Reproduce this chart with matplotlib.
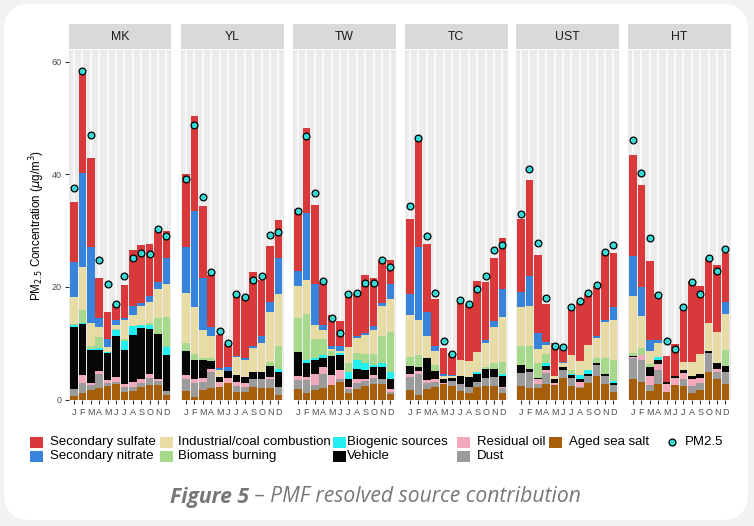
import numpy as np
import matplotlib
matplotlib.use("Agg")
import matplotlib.pyplot as plt
from matplotlib.patches import FancyBboxPatch, Rectangle
from matplotlib.lines import Line2D
from matplotlib.transforms import IdentityTransform

# ---------------- data ----------------
sites = ["MK", "YL", "TW", "TC", "UST", "HT"]
months = ["J", "F", "M", "A", "M", "J", "J", "A", "S", "O", "N", "D"]

aged_sea_salt = [
    [0.65, 1.2, 1.66, 2.1, 2.4, 2.7, 1.4, 1.5, 2.25, 2.5, 2.5, 0.8],
    [1.5, 0.5, 1.7, 2.0, 2.25, 3.0, 1.4, 1.4, 2.25, 2.1, 2.1, 0.8],
    [1.8, 1.1, 1.7, 2.1, 2.5, 3.1, 1.2, 1.8, 2.4, 2.7, 2.7, 0.9],
    [1.7, 0.8, 1.8, 2.25, 2.8, 2.4, 1.5, 1.2, 2.25, 2.4, 2.4, 1.1],
    [2.4, 2.0, 2.0, 2.8, 2.5, 3.9, 2.4, 2.0, 3.0, 4.1, 2.8, 1.4],
    [3.6, 3.1, 1.5, 2.7, 1.4, 2.5, 2.4, 1.2, 1.7, 4.9, 3.6, 2.8],
]
dust = [
    [1.2, 1.7, 0.9, 2.4, 0.5, 0.4, 0.9, 0.75, 0.6, 1.4, 0.7, 0.7],
    [2.2, 2.5, 1.4, 2.8, 0.0, 0.0, 1.0, 0.9, 1.35, 1.5, 1.5, 1.45],
    [1.6, 2.4, 0.8, 2.5, 0.0, 0.5, 0.6, 1.1, 0.8, 1.2, 0.9, 0.5],
    [2.3, 3.7, 1.2, 0.9, 0.0, 0.8, 1.2, 1.05, 0.85, 1.4, 1.6, 0.9],
    [2.3, 2.9, 0.8, 1.9, 0.0, 1.4, 1.5, 0.25, 1.1, 2.0, 1.3, 1.2],
    [3.7, 4.0, 1.0, 2.5, 0.0, 0.0, 1.3, 1.2, 1.3, 3.3, 1.3, 2.1],
]
residual_oil = [
    [0.0, 1.4, 0.3, 0.6, 0.6, 0.9, 0.5, 0.85, 0.8, 0.6, 0.4, 0.0],
    [0.6, 0.7, 0.8, 0.7, 0.9, 0.9, 0.7, 0.7, 0.0, 0.0, 0.4, 0.0],
    [0.7, 0.5, 2.0, 1.1, 1.8, 1.6, 0.45, 0.7, 0.4, 0.4, 0.0, 0.4],
    [0.5, 0.6, 0.4, 0.45, 0.2, 0.0, 0.0, 0.0, 0.0, 0.0, 0.0, 0.3],
    [0.0, 0.0, 0.8, 0.5, 0.5, 0.0, 0.0, 0.85, 0.0, 0.0, 0.0, 0.0],
    [0.3, 0.8, 1.6, 1.1, 1.3, 1.4, 1.0, 1.3, 0.9, 0.0, 0.6, 0.0],
]
vehicle = [
    [11.1, 9.1, 6.0, 3.7, 4.7, 7.3, 6.0, 8.3, 9.0, 8.1, 8.1, 6.4],
    [4.3, 3.3, 3.1, 1.4, 0.8, 1.2, 1.2, 1.0, 1.2, 1.2, 1.9, 2.65],
    [4.4, 2.5, 2.6, 1.6, 3.4, 2.7, 1.45, 1.9, 1.6, 1.4, 2.1, 1.8],
    [1.4, 0.7, 3.9, 1.5, 0.7, 0.6, 1.4, 1.75, 1.5, 1.6, 1.5, 1.9],
    [1.4, 0.6, 0.2, 0.7, 0.7, 0.5, 0.4, 0.6, 0.5, 0.4, 0.4, 0.3],
    [0.1, 0.0, 1.7, 0.7, 0.4, 0.2, 0.5, 0.4, 0.6, 0.4, 0.9, 1.0],
]
biogenic_sources = [
    [0.3, 0.1, 0.1, 0.3, 0.3, 1.0, 1.6, 1.6, 0.6, 0.6, 0.0, 1.5],
    [0.0, 0.0, 0.0, 0.0, 0.0, 0.0, 0.0, 0.0, 0.0, 0.0, 0.0, 0.6],
    [0.0, 0.5, 0.2, 0.6, 0.0, 0.3, 1.2, 1.6, 1.2, 0.4, 0.7, 1.3],
    [0.0, 0.0, 0.0, 0.0, 0.0, 0.0, 0.0, 0.0, 0.3, 0.0, 0.0, 0.4],
    [0.0, 0.0, 0.0, 0.5, 0.0, 0.0, 0.3, 0.6, 0.7, 0.0, 0.0, 0.4],
    [0.0, 0.0, 0.0, 0.6, 0.0, 0.0, 0.0, 0.0, 0.0, 0.0, 0.0, 0.0],
]
biomass_burning = [
    [0.2, 2.4, 0.6, 2.0, 0.0, 0.2, 0.3, 0.0, 0.0, 0.3, 2.8, 5.3],
    [1.5, 1.1, 0.3, 0.4, 0.0, 0.0, 0.0, 0.0, 0.0, 0.0, 0.8, 4.0],
    [6.0, 8.1, 3.4, 2.9, 0.9, 0.0, 1.5, 1.2, 1.6, 1.9, 4.9, 7.1],
    [1.6, 2.1, 0.0, 1.0, 0.0, 0.0, 0.0, 0.0, 0.0, 0.4, 0.9, 2.0],
    [3.4, 4.0, 2.7, 1.6, 0.0, 0.0, 0.6, 0.0, 0.0, 0.8, 2.9, 3.7],
    [0.6, 1.3, 0.5, 0.0, 0.0, 0.0, 0.0, 0.0, 0.0, 0.0, 0.0, 2.9],
]
industrial_coal = [
    [4.7, 7.6, 4.0, 1.8, 0.9, 0.8, 3.4, 2.0, 3.3, 3.9, 5.2, 5.9],
    [8.9, 8.3, 5.0, 4.0, 1.3, 0.0, 3.2, 3.0, 4.3, 5.3, 8.9, 9.2],
    [5.6, 6.2, 2.5, 1.6, 0.4, 0.4, 3.0, 2.6, 3.4, 4.3, 5.3, 5.8],
    [7.5, 6.3, 4.0, 2.5, 0.4, 0.3, 2.9, 2.9, 3.6, 4.3, 6.5, 8.1],
    [7.0, 7.1, 2.4, 1.7, 0.4, 0.6, 2.7, 2.6, 4.4, 3.6, 6.4, 7.1],
    [10.1, 5.6, 2.3, 2.5, 0.0, 0.0, 1.5, 2.6, 3.5, 4.9, 5.6, 6.4],
]
secondary_nitrate = [
    [6.2, 16.8, 13.5, 1.6, 1.4, 0.9, 0.3, 1.6, 0.6, 1.0, 1.2, 4.5],
    [8.0, 17.0, 9.3, 1.5, 0.4, 0.7, 0.2, 0.3, 0.4, 1.2, 1.8, 6.5],
    [2.8, 11.8, 7.4, 0.9, 0.5, 0.9, 0.0, 0.4, 0.4, 0.7, 0.6, 2.8],
    [3.8, 12.8, 4.2, 0.9, 0.4, 0.3, 0.0, 0.0, 0.0, 0.4, 1.0, 4.9],
    [2.6, 5.3, 2.9, 0.5, 0.0, 0.3, 0.0, 0.0, 0.0, 0.4, 0.3, 2.4],
    [7.1, 5.1, 1.9, 0.4, 0.0, 0.0, 0.0, 0.0, 0.0, 0.0, 0.0, 2.2],
]
secondary_sulfate = [
    [10.8, 17.7, 15.8, 7.1, 4.8, 2.7, 5.9, 9.9, 10.3, 9.3, 9.1, 4.9],
    [13.0, 17.0, 12.8, 9.3, 5.8, 4.0, 11.4, 11.1, 13.1, 10.0, 9.9, 6.6],
    [11.0, 15.2, 13.9, 7.6, 5.5, 4.4, 9.3, 7.7, 10.3, 8.5, 7.6, 4.2],
    [13.2, 19.4, 12.2, 8.3, 4.7, 3.9, 10.7, 10.0, 12.5, 10.4, 11.3, 9.1],
    [12.9, 17.1, 13.8, 6.7, 5.9, 2.4, 8.1, 10.5, 9.0, 8.8, 12.0, 9.6],
    [18.0, 18.2, 14.1, 8.2, 4.6, 5.7, 9.8, 14.4, 12.2, 11.7, 11.9, 8.7],
]
pm25 = [
    [37.6, 58.3, 46.9, 24.8, 20.5, 16.9, 21.9, 25.2, 26.1, 25.9, 30.2, 29.0],
    [39.2, 48.8, 36.0, 22.6, 12.2, 10.0, 18.7, 18.2, 21.3, 21.9, 29.2, 29.7],
    [33.4, 46.8, 36.7, 21.1, 14.4, 11.8, 18.7, 19.0, 20.7, 20.7, 24.8, 23.5],
    [34.4, 46.4, 29.1, 19.0, 10.4, 8.1, 17.7, 16.9, 19.7, 22.0, 26.5, 27.4],
    [32.9, 40.9, 27.8, 18.0, 9.5, 9.4, 16.4, 17.5, 19.0, 20.4, 26.2, 27.4],
    [46.1, 40.3, 28.7, 18.5, 10.4, 8.9, 16.4, 20.9, 18.7, 25.1, 22.8, 26.7],
]

legend_labels = ["Secondary sulfate", "Secondary nitrate", "Industrial/coal combustion",
                 "Biomass burning", "Biogenic sources", "Vehicle", "Residual oil",
                 "Dust", "Aged sea salt"]
colors = {
    "Secondary sulfate": "#D8393B",
    "Secondary nitrate": "#3884DB",
    "Industrial/coal combustion": "#E8DCA6",
    "Biomass burning": "#A7D98D",
    "Biogenic sources": "#22EFEF",
    "Vehicle": "#060606",
    "Residual oil": "#F2AABA",
    "Dust": "#9B9B9B",
    "Aged sea salt": "#A65E08",
}
# stacking order, bottom to top
stack = [("Aged sea salt", aged_sea_salt), ("Dust", dust), ("Residual oil", residual_oil),
         ("Vehicle", vehicle), ("Biogenic sources", biogenic_sources),
         ("Biomass burning", biomass_burning), ("Industrial/coal combustion", industrial_coal),
         ("Secondary nitrate", secondary_nitrate), ("Secondary sulfate", secondary_sulfate)]

# ---------------- figure ----------------
W, H = 754, 526
fig = plt.figure(figsize=(W / 100, H / 100), dpi=100)
fig.patch.set_facecolor("#F2F2F2")
card = FancyBboxPatch((4, H - 520), 744, 516, boxstyle="round,pad=0,rounding_size=26",
                      transform=IdentityTransform(), facecolor="white", edgecolor="none",
                      zorder=-5)
fig.patches.append(card)

FONT = "Liberation Sans"
panel_x = [69, 181, 293, 405, 516, 628]
panel_w = 102.5
p_top, p_bot = 50, 399.5
s_top = 24
x = np.arange(1, 13)

for i, site in enumerate(sites):
    ax = fig.add_axes([panel_x[i] / W, 1 - p_bot / H, panel_w / W, (p_bot - p_top) / H])
    ax.set_facecolor("#EBEBEB")
    for sp in ax.spines.values():
        sp.set_visible(False)
    bottom = np.zeros(12)
    for name, arr in stack:
        vals = np.array(arr[i])
        ax.bar(x, vals, width=0.9, bottom=bottom, color=colors[name], linewidth=0, zorder=2)
        bottom = bottom + vals
    ax.scatter(x, pm25[i], s=24, facecolor="#38D8D5", edgecolor="black", linewidth=0.9,
               zorder=5, clip_on=False)
    ax.set_xlim(0.4, 12.6)
    ax.set_ylim(0, 62.07)
    ax.set_xticks(x)
    ax.set_xticklabels(months, fontsize=6.5, color="#4D4D4D", family=FONT)
    ax.grid(axis="x", color="white", linewidth=1.1, zorder=0)
    ax.set_axisbelow(True)
    ax.tick_params(axis="x", length=3, width=0.8, color="#333333", pad=3)
    if i == 0:
        ax.set_yticks([0, 20, 40, 60])
        ax.set_yticklabels(["0", "20", "40", "60"], fontsize=6.5, color="#4D4D4D", family=FONT)
        ax.tick_params(axis="y", length=3, width=0.8, color="#333333", pad=2.5)
    else:
        ax.set_yticks([])
    # strip
    sax = fig.add_axes([panel_x[i] / W, 1 - (p_top - 1) / H, panel_w / W, (p_top - 1 - s_top) / H])
    sax.set_facecolor("#D9D9D9")
    sax.set_xticks([]); sax.set_yticks([])
    for sp in sax.spines.values():
        sp.set_visible(False)
    sax.text(0.5, 0.48, site, ha="center", va="center", fontsize=8.8, color="#1A1A1A",
             family=FONT, transform=sax.transAxes)

fig.text(37 / W, 1 - 225 / H, r"PM$_{2.5}$ Concentration ($\mu$g/m$^3$)", rotation=90,
         ha="center", va="center", fontsize=8.4, color="black", family=FONT)

# ---------------- legend ----------------
key_x = [30, 160, 333, 457.5, 549]
text_x = [50, 178, 347, 477, 569]
row_y = [442, 456]
for k, lab in enumerate(legend_labels):
    col, row = divmod(k, 2)
    fig.patches.append(Rectangle(((key_x[col]) / W, 1 - (row_y[row] + 5.5) / H), 13 / W, 11 / H,
                                 transform=fig.transFigure, facecolor=colors[lab],
                                 edgecolor="none"))
    fig.text(text_x[col] / W, 1 - row_y[row] / H, lab, ha="left", va="center",
             fontsize=9.5, color="black", family=FONT)
fig.lines.append(Line2D([672 / W], [1 - 442 / H], marker="o", markersize=5,
                        markerfacecolor="#38D8D5", markeredgecolor="black",
                        markeredgewidth=0.9, linestyle="none", transform=fig.transFigure))
fig.text(685 / W, 1 - 442 / H, "PM2.5", ha="left", va="center", fontsize=9.5,
         color="black", family=FONT)

# ---------------- caption ----------------
cap_y = 1 - 497 / H
t1 = fig.text(170 / W, cap_y, "Figure 5", ha="left", va="center", fontsize=15.2,
              fontweight="bold", style="italic", color="#777777", family="Open Sans")
fig.canvas.draw()
bb = t1.get_window_extent()
fig.text(bb.x1 / W, cap_y, " \u2013 PMF resolved source contribution", ha="left", va="center",
         fontsize=15.2, style="italic", color="#777777", family="Open Sans")

fig.savefig("out.png", dpi=100, facecolor=fig.get_facecolor())
